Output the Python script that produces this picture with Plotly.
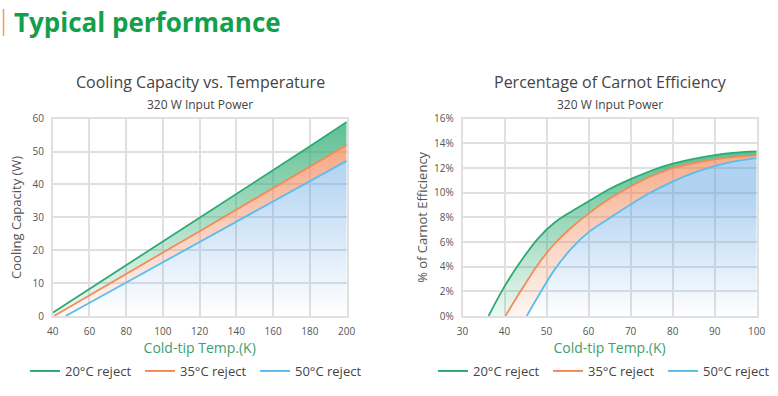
import plotly.graph_objects as go

# ---------------- data ----------------
series_names = ["20°C reject", "35°C reject", "50°C reject"]

# Cooling capacity (W) vs cold-tip temperature (K)
cap_t_20 = [40, 60, 80, 100, 120, 140, 160, 180, 200]
cap_w_20 = [1.0, 8.2, 15.4, 22.6, 29.8, 37.1, 44.3, 51.6, 59.0]
cap_t_35 = [40.7, 60, 80, 100, 120, 140, 160, 180, 200]
cap_w_35 = [0.0, 6.2, 12.8, 19.3, 25.8, 32.4, 38.9, 45.5, 52.0]
cap_t_50 = [47, 60, 80, 100, 120, 140, 160, 180, 200]
cap_w_50 = [0.0, 4.0, 10.1, 16.3, 22.4, 28.6, 34.7, 40.8, 47.2]

# Percentage of Carnot efficiency vs cold-tip temperature (K)
eff_t_20 = [36.2, 40, 44, 48, 52, 56, 60, 65, 70, 75, 80, 85, 90, 95, 100]
eff_p_20 = [0.0, 2.4, 4.5, 6.3, 7.6, 8.5, 9.3, 10.3, 11.1, 11.8, 12.35, 12.75, 13.05, 13.25, 13.35]
eff_t_35 = [40.2, 44, 48, 52, 56, 60, 65, 70, 75, 80, 85, 90, 95, 100]
eff_p_35 = [0.0, 2.1, 4.2, 5.9, 7.2, 8.3, 9.5, 10.5, 11.35, 12.0, 12.4, 12.7, 12.9, 13.05]
eff_t_50 = [45.3, 48, 52, 56, 60, 65, 70, 75, 80, 85, 90, 95, 100]
eff_p_50 = [0.0, 1.6, 3.8, 5.5, 6.8, 7.95, 9.05, 10.05, 10.9, 11.6, 12.15, 12.55, 12.8]

cap_xticks = [40, 60, 80, 100, 120, 140, 160, 180, 200]
cap_yticks = [0, 10, 20, 30, 40, 50, 60]
eff_xticks = [30, 40, 50, 60, 70, 80, 90, 100]
eff_yticks = [0, 2, 4, 6, 8, 10, 12, 14, 16]
eff_ytext = [f"{v}%" for v in eff_yticks]

# ---------------- style ----------------
FONT = "Open Sans"
C_GREEN = "#2DAA73"
C_ORANGE = "#F28C5A"
C_BLUE = "#5BBDEC"
COLORS = [C_GREEN, C_ORANGE, C_BLUE]
GRID = "#e0e0e0"
W, H = 778, 396

def px_x(p):
    return p / W

def px_y(p):
    return 1 - p / H

fig = go.Figure()

def grad(rgb, a_lo, a_hi, start, stop):
    r, g, b = rgb
    return dict(type="vertical", start=start, stop=stop,
                colorscale=[[0, f"rgba({r},{g},{b},{a_lo})"],
                            [1, f"rgba({r},{g},{b},{a_hi})"]])

def band(x, y, color, fill, fg, xa, ya, shape="linear"):
    return go.Scatter(x=x, y=y, mode="lines", showlegend=False, hoverinfo="x+y",
                      line=dict(color=color, width=1.8, shape=shape), fill=fill,
                      fillgradient=fg, xaxis=xa, yaxis=ya)

# left chart: blue first (to zero), then orange, then green (tonexty)
fig.add_trace(band(cap_t_50, cap_w_50, C_BLUE, "tozeroy", grad((80, 155, 225), 0.0, 0.45, 0, 47), "x", "y"))
fig.add_trace(band(cap_t_35, cap_w_35, C_ORANGE, "tonexty", grad((242, 130, 80), 0.05, 0.7, 0, 52), "x", "y"))
fig.add_trace(band(cap_t_20, cap_w_20, C_GREEN, "tonexty", grad((40, 170, 110), 0.05, 0.75, 0, 59), "x", "y"))

# right chart
fig.add_trace(band(eff_t_50, eff_p_50, C_BLUE, "tozeroy", grad((80, 155, 225), 0.0, 0.45, 0, 10), "x2", "y2", "spline"))
fig.add_trace(band(eff_t_35, eff_p_35, C_ORANGE, "tonexty", grad((242, 130, 80), 0.08, 0.65, 0, 13), "x2", "y2", "spline"))
fig.add_trace(band(eff_t_20, eff_p_20, C_GREEN, "tonexty", grad((40, 170, 110), 0.08, 0.75, 0, 13.4), "x2", "y2", "spline"))

# legend entries (line only)
for lg, xa, ya in (("legend", "x", "y"), ("legend2", "x2", "y2")):
    for name, col in zip(series_names, COLORS):
        fig.add_trace(go.Scatter(x=[None], y=[None], mode="lines", name=name,
                                 line=dict(color=col, width=2), legend=lg,
                                 xaxis=xa, yaxis=ya))

tickfont = dict(family=FONT, size=10, color="#555")
axtitle_x = dict(family=FONT, size=14, color="#3E9E70")
axtitle_y = dict(family=FONT, size=13, color="#555")

ydom = [px_y(316), px_y(118.7)]
common = dict(showgrid=True, gridcolor=GRID, gridwidth=1.5, zeroline=False,
              showline=True, linecolor=GRID, linewidth=1.5, mirror=True,
              ticks="", tickfont=tickfont, automargin=False, fixedrange=True,
              ticklabelstandoff=5)

legend_common = dict(orientation="h", yanchor="top", xanchor="left",
                     traceorder="normal",
                     entrywidth=70, entrywidthmode="pixels",
                     font=dict(family=FONT, size=13, color="#444"),
                     bgcolor="rgba(0,0,0,0)", itemclick=False)

fig.update_layout(
    width=W, height=H,
    margin=dict(l=0, r=0, t=0, b=0, autoexpand=False),
    paper_bgcolor="white", plot_bgcolor="white",
    font=dict(family=FONT, color="#444"),
    xaxis=dict(domain=[px_x(52.7), px_x(346.7)], range=[40, 200], tickvals=cap_xticks,
               anchor="y", title=dict(text="Cold-tip Temp.(K)", font=axtitle_x, standoff=6),
               **common),
    yaxis=dict(domain=ydom, range=[0, 60], tickvals=cap_yticks, anchor="x",
               title=dict(text="Cooling Capacity (W)", font=axtitle_y, standoff=8),
               **common),
    xaxis2=dict(domain=[px_x(462.5), px_x(756.7)], range=[30, 100], tickvals=eff_xticks,
                anchor="y2", title=dict(text="Cold-tip Temp.(K)", font=axtitle_x, standoff=6),
                **common),
    yaxis2=dict(domain=ydom, range=[0, 16], tickvals=eff_yticks, ticktext=eff_ytext,
                anchor="x2", title=dict(text="% of Carnot Efficiency", font=axtitle_y, standoff=3),
                **common),
    legend=dict(x=px_x(25), y=px_y(356), **legend_common),
    legend2=dict(x=px_x(433), y=px_y(356), **legend_common),
    showlegend=True,
)

ann = [
    dict(text="<b>Typical performance</b>", x=px_x(12), y=px_y(22), xanchor="left",
         font=dict(family=FONT, size=26, color="#13A04A")),
    dict(text="Cooling Capacity vs. Temperature", x=px_x(200), y=px_y(82),
         font=dict(family=FONT, size=16, color="#444")),
    dict(text="320 W Input Power", x=px_x(200), y=px_y(104),
         font=dict(family=FONT, size=12, color="#444")),
    dict(text="Percentage of Carnot Efficiency", x=px_x(610), y=px_y(82),
         font=dict(family=FONT, size=16, color="#444")),
    dict(text="320 W Input Power", x=px_x(610), y=px_y(104),
         font=dict(family=FONT, size=12, color="#444")),
]
for a in ann:
    a.setdefault("xanchor", "center")
    a.setdefault("yanchor", "middle")
    fig.add_annotation(xref="paper", yref="paper", showarrow=False, **a)

fig.add_shape(type="line", xref="paper", yref="paper",
              x0=px_x(3.5), x1=px_x(3.5), y0=px_y(9), y1=px_y(36),
              line=dict(color="#F0A04B", width=1.5))

fig.write_html("out.html", config={"displayModeBar": False},
               post_script="document.body.style.margin='0';document.body.style.overflow='hidden';")
